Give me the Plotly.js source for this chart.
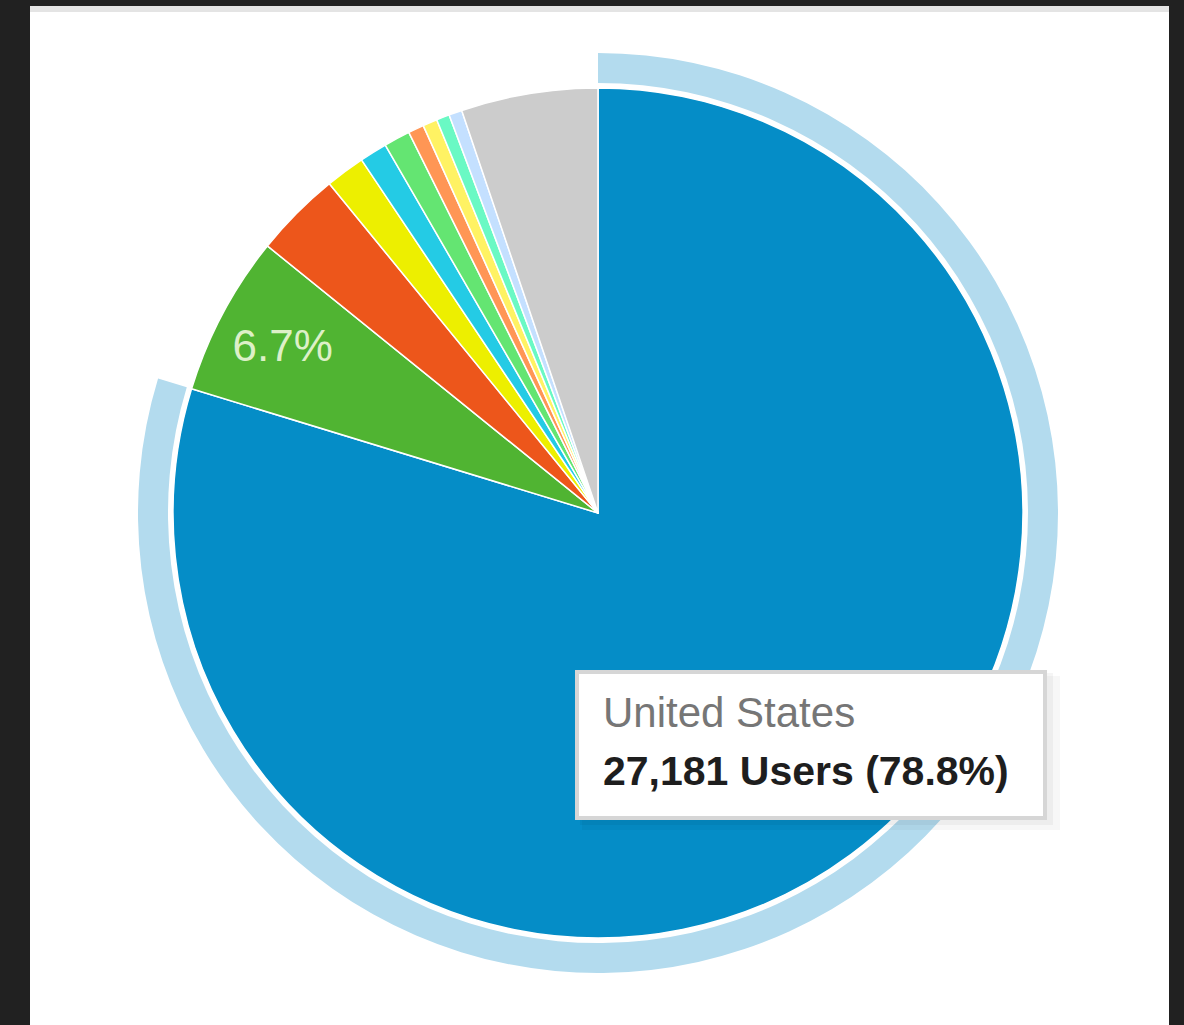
<!DOCTYPE html>
<html>
<head>
<meta charset="utf-8">
<script src="https://cdn.plot.ly/plotly-3.0.1.min.js"></script>
<style>html,body{margin:0;padding:0;background:#212121;}#chart{width:1184px;height:1025px;}</style>
</head>
<body>
<div id="chart"></div>
<script>
// Data (share of users, percent)
const countries = ["United States", "Country 2", "Country 3", "Country 4", "Country 5", "Country 6", "Country 7", "Country 8", "Country 9", "Country 10", "Other"];
const shares = [79.8, 6.1, 3.3, 1.5, 1.05, 1.0, 0.6, 0.55, 0.5, 0.5, 5.2];
const sliceColors = ["#058DC7", "#50B432", "#ED561B", "#EDEF00", "#24CBE5", "#64E572", "#FF9655", "#FFF263", "#6AF9C4", "#C4E0FF", "#CCCCCC"];
const sliceLabels = ["", "6.7%", "", "", "", "", "", "", "", "", ""];
const highlighted = "United States";
const tooltipName = "United States";
const tooltipValue = "27,181 Users (78.8%)";

const W = 1184, H = 1025;
const cx = 598, cy = 513, r = 425, ringIn = 430, ringOut = 460;
function dom(rad) {
  return {
    x: [(cx - rad) / W, (cx + rad) / W],
    y: [(H - cy - rad) / H, (H - cy + rad) / H]
  };
}

const ringColors = countries.map(c => c === highlighted ? "#B3DBEE" : "rgba(0,0,0,0)");

const traces = [
  {
    type: "pie",
    labels: countries,
    values: shares,
    sort: false,
    direction: "clockwise",
    rotation: 0,
    hole: ringIn / ringOut,
    domain: dom(ringOut),
    marker: {colors: ringColors, line: {width: 0}},
    textinfo: "none",
    hoverinfo: "skip",
    showlegend: false
  },
  {
    type: "pie",
    labels: countries,
    values: shares,
    sort: false,
    direction: "clockwise",
    rotation: 0,
    domain: dom(r),
    marker: {colors: sliceColors, line: {color: "#FFFFFF", width: 1.5}},
    text: sliceLabels,
    textinfo: "text",
    textposition: "inside",
    insidetextorientation: "horizontal",
    textfont: {family: "Liberation Sans, Arial, sans-serif", size: 44, color: "#DDF0C8"},
    hoverinfo: "skip",
    showlegend: false
  }
];

function px(x) { return x / W; }
function py(y) { return (H - y) / H; }

const layout = {
  width: W,
  height: H,
  margin: {l: 0, r: 0, t: 0, b: 0, pad: 0},
  paper_bgcolor: "#212121",
  showlegend: false,
  shapes: [
    {type: "rect", xref: "paper", yref: "paper", layer: "below", x0: px(30), x1: px(1169), y0: 0, y1: py(6), fillcolor: "#E4E4E4", line: {width: 0}},
    {type: "rect", xref: "paper", yref: "paper", layer: "below", x0: px(30), x1: px(1169), y0: 0, y1: py(12), fillcolor: "#FFFFFF", line: {width: 0}},
    // tooltip shadow
    {type: "rect", xref: "paper", yref: "paper", layer: "above", x0: px(582), x1: px(1060), y0: py(830), y1: py(676), fillcolor: "rgba(0,0,0,0.03)", line: {width: 0}},
    {type: "rect", xref: "paper", yref: "paper", layer: "above", x0: px(580), x1: px(1053), y0: py(825), y1: py(673), fillcolor: "rgba(0,0,0,0.04)", line: {width: 0}},
    // tooltip box
    {type: "rect", xref: "paper", yref: "paper", layer: "above", x0: px(577), x1: px(1045), y0: py(818), y1: py(672), fillcolor: "#FFFFFF", line: {color: "#D6D6D6", width: 4}}
  ],
  annotations: [
    {xref: "paper", yref: "paper", x: px(601), y: py(712), xanchor: "left", yanchor: "middle", showarrow: false, align: "left",
     text: tooltipName, font: {family: "Liberation Sans, Arial, sans-serif", size: 42, color: "#767676"}},
    {xref: "paper", yref: "paper", x: px(601), y: py(771), xanchor: "left", yanchor: "middle", showarrow: false, align: "left",
     text: "<b>" + tooltipValue + "</b>", font: {family: "Liberation Sans, Arial, sans-serif", size: 41, color: "#1E1E1E"}}
  ]
};

Plotly.newPlot("chart", traces, layout, {displayModeBar: false, staticPlot: true});
</script>
</body>
</html>
